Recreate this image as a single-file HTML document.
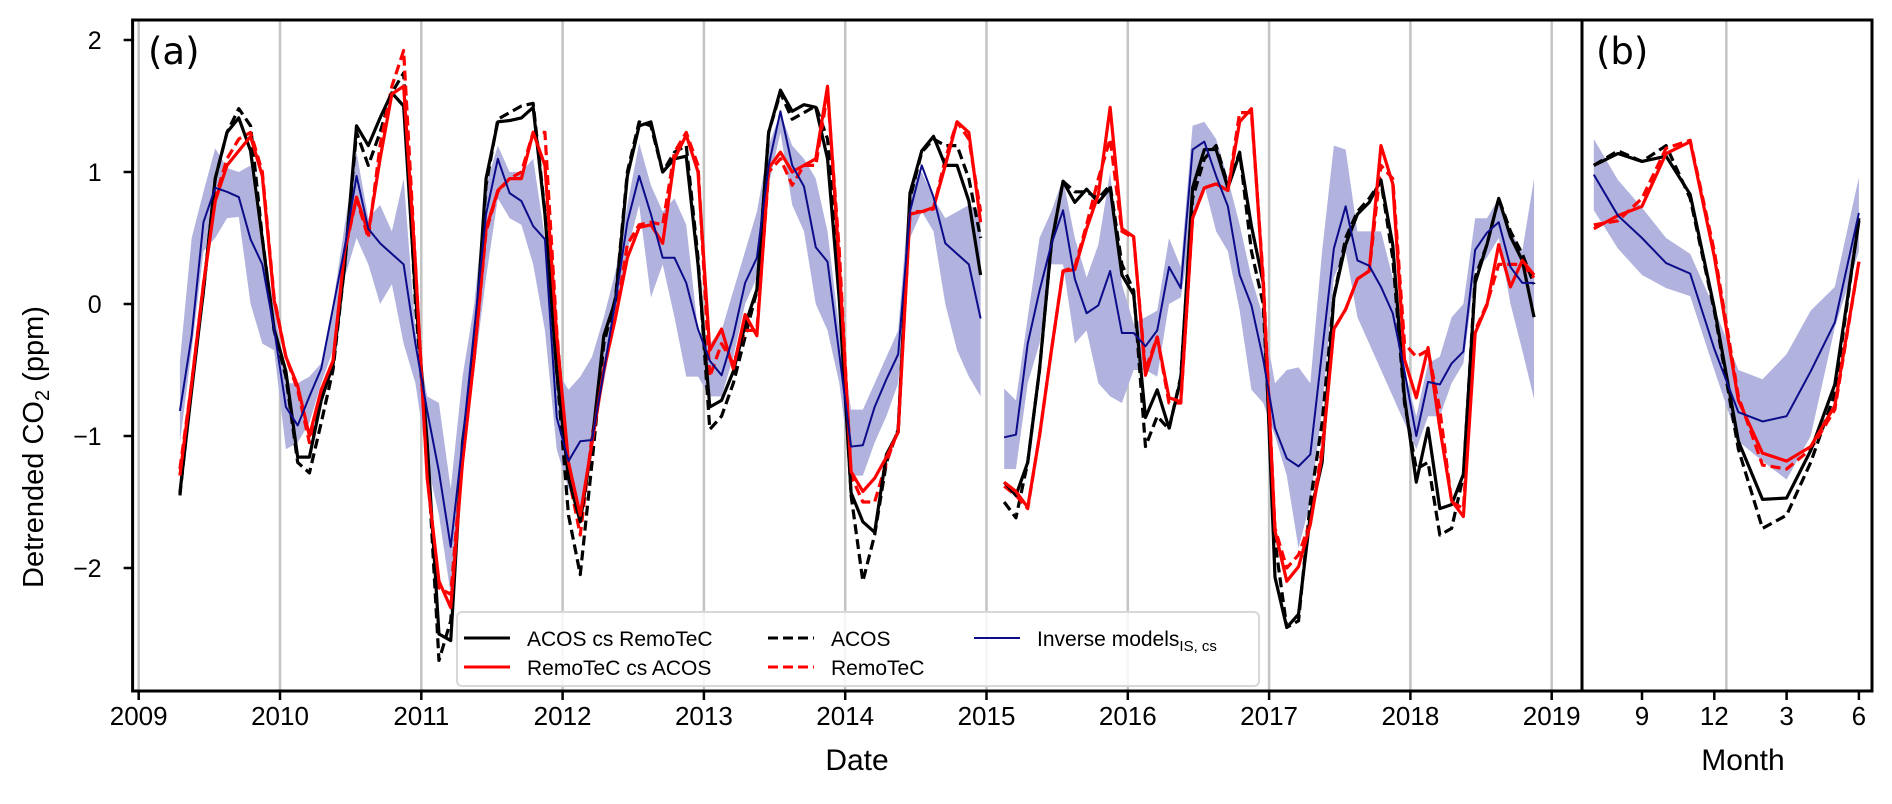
<!DOCTYPE html>
<html><head><meta charset="utf-8"><style>
body{margin:0;background:#fff}
svg{display:block}
text{font-family:"Liberation Sans",Arial,sans-serif;fill:#000}
</style></head><body>
<svg id="chart" width="1892" height="804" viewBox="0 0 1892 804" xmlns="http://www.w3.org/2000/svg">
<g id="grid"></g>
<g id="plot"></g>
<g id="axes"></g>
<text x="148" y="64" font-size="37" style="font-family:'DejaVu Sans',sans-serif">(a)</text>
<text x="1596" y="64" font-size="37" style="font-family:'DejaVu Sans',sans-serif">(b)</text>
<text x="857" y="770" font-size="30" text-anchor="middle">Date</text>
<text x="1743" y="770" font-size="30" text-anchor="middle">Month</text>
<text transform="translate(43,588) rotate(-90)" font-size="29" text-anchor="start">Detrended CO<tspan font-size="20" dy="6">2</tspan><tspan dy="-6"> (ppm)</tspan></text>
<g id="legend"></g>
</svg>
<script>
// Panel (a): monthly values, index 0 = Apr 2009 ... Nov 2018 (null = gap)
const acosCs = [
-1.43,-0.65,0.1,0.95,1.3,1.41,1.16,0.49,-0.19,
-0.51,-1.16,-1.16,-0.73,-0.46,0.3,1.35,1.2,1.41,1.6,1.5,0.08,
-1.05,-2.5,-2.55,-1.05,-0.38,0.95,1.38,1.39,1.41,1.49,0.68,-0.51,
-1.32,-1.65,-1.05,-0.24,0.03,0.97,1.35,1.38,1.0,1.1,1.12,0.3,
-0.78,-0.73,-0.51,-0.16,0.11,1.3,1.62,1.46,1.51,1.49,1.1,0.03,
-1.43,-1.65,-1.73,-1.14,-0.97,0.84,1.16,1.27,1.05,1.05,0.78,0.22,
null,-1.35,-1.45,-1.2,-0.5,0.45,0.93,0.77,0.87,0.77,0.88,0.22,
0.07,-0.86,-0.65,-0.94,-0.57,0.88,1.17,1.17,0.88,1.14,0.59,0.16,
-2.07,-2.45,-2.35,-1.6,-1.2,0.05,0.45,0.68,0.77,0.94,0.45,-0.71,
-1.35,-0.94,-1.55,-1.52,-1.29,0.16,0.45,0.8,0.51,0.33,-0.1];
const acos = [
-1.45,-0.6,0.1,0.95,1.3,1.48,1.35,0.5,-0.2,
-0.55,-1.2,-1.28,-0.9,-0.5,0.3,1.3,1.05,1.3,1.6,1.75,0.0,
-1.1,-2.7,-2.4,-1.1,-0.4,0.9,1.4,1.45,1.5,1.52,0.7,-0.5,
-1.6,-2.05,-1.2,-0.3,0.05,1.0,1.38,1.35,1.0,1.15,1.2,0.35,
-0.95,-0.85,-0.6,-0.25,0.1,1.3,1.6,1.4,1.45,1.5,1.25,0.2,
-1.45,-2.1,-1.75,-1.2,-0.95,0.8,1.15,1.25,1.2,1.2,0.95,0.5,
null,-1.5,-1.62,-1.2,-0.5,0.45,0.93,0.85,0.85,0.8,0.9,0.3,
0.1,-1.08,-0.85,-0.95,-0.55,0.8,1.1,1.2,0.9,1.15,0.4,0.0,
-1.8,-2.45,-2.4,-1.5,-0.9,0.05,0.5,0.7,0.8,0.93,0.35,-0.75,
-1.25,-1.2,-1.75,-1.7,-1.3,0.2,0.45,0.8,0.55,0.38,0.15];
const remoCs = [
-1.3,-0.6,0.15,0.78,1.05,1.16,1.27,0.97,0.03,
-0.4,-0.62,-1.0,-0.65,-0.43,0.41,0.81,0.54,1.1,1.59,1.65,0.3,
-1.32,-2.1,-2.3,-1.2,-0.4,0.57,0.86,0.95,0.95,1.3,1.05,-0.24,
-1.2,-1.6,-1.05,-0.5,-0.1,0.35,0.58,0.6,0.46,1.1,1.28,1.0,
-0.35,-0.19,-0.49,-0.08,-0.24,1.03,1.15,1.0,1.05,1.1,1.65,0.3,
-1.27,-1.42,-1.32,-1.16,-0.97,0.68,0.7,0.73,1.05,1.38,1.3,0.62,
null,-1.35,-1.42,-1.54,-1.0,-0.36,0.25,0.26,0.57,0.83,1.49,0.57,
0.51,-0.54,-0.25,-0.71,-0.74,0.65,0.88,0.91,0.86,1.38,1.48,0.16,
-1.72,-2.1,-1.99,-1.67,-1.14,-0.19,-0.04,0.19,0.25,1.2,0.91,-0.42,
-0.71,-0.33,-0.94,-1.49,-1.61,-0.22,-0.01,0.45,0.13,0.33,0.22];
const remo = [
-1.25,-0.6,0.15,0.8,1.1,1.25,1.3,1.0,0.05,
-0.4,-0.65,-1.05,-0.7,-0.45,0.4,0.8,0.5,1.2,1.65,1.92,0.3,
-1.3,-2.15,-2.2,-1.15,-0.4,0.55,0.85,0.95,1.0,1.3,1.3,-0.2,
-1.3,-1.75,-1.0,-0.5,-0.1,0.45,0.6,0.62,0.6,1.15,1.3,1.05,
-0.55,-0.3,-0.45,-0.2,-0.2,1.0,1.1,0.9,1.05,1.05,1.6,0.4,
-1.3,-1.5,-1.5,-1.2,-0.95,0.7,0.7,0.72,1.1,1.38,1.25,0.7,
null,-1.38,-1.45,-1.55,-1.0,-0.36,0.25,0.28,0.6,0.95,1.25,0.55,
0.5,-0.5,-0.25,-0.75,-0.75,0.65,0.88,0.91,0.86,1.45,1.45,0.2,
-1.7,-2.0,-1.9,-1.65,-1.1,-0.19,-0.04,0.19,0.25,1.05,0.95,-0.3,
-0.4,-0.35,-0.8,-1.5,-1.55,-0.2,0.0,0.3,0.3,0.3,0.2];
const inverse = [
-0.81,-0.24,0.62,0.88,0.85,0.81,0.49,0.3,-0.19,
-0.78,-0.92,-0.7,-0.49,-0.03,0.43,0.97,0.57,0.46,0.38,0.3,-0.3,
-0.81,-1.27,-1.84,-1.05,-0.19,0.68,1.1,0.84,0.78,0.59,0.49,-0.86,
-1.19,-1.04,-1.03,-0.51,0.03,0.62,0.97,0.68,0.35,0.35,0.16,-0.19,
-0.43,-0.54,-0.24,0.16,0.35,1.05,1.46,1.05,0.89,0.43,0.32,-0.38,
-1.08,-1.07,-0.78,-0.57,-0.38,0.7,1.05,0.81,0.46,0.38,0.3,-0.11,
null,-1.01,-0.99,-0.3,0.1,0.45,0.71,0.19,-0.07,-0.01,0.25,-0.22,
-0.22,-0.32,-0.2,0.28,0.12,1.17,1.23,0.97,0.74,0.22,-0.01,-0.42,
-0.94,-1.17,-1.23,-1.14,-0.36,0.42,0.74,0.33,0.29,0.13,-0.07,-0.51,
-1.0,-0.59,-0.61,-0.45,-0.36,0.41,0.54,0.62,0.28,0.16,0.16];
const bandHi = [
-0.43,0.5,0.85,1.18,1.03,1.0,1.05,0.4,0.0,
-0.6,-0.6,-0.55,-0.45,0.0,0.6,1.15,0.65,0.75,0.55,0.95,-0.2,
-0.7,-0.75,-1.4,-0.55,0.0,0.9,1.2,1.0,1.0,1.1,0.5,-0.5,
-0.65,-0.55,-0.4,-0.1,0.25,0.75,1.22,0.9,0.7,0.8,0.6,-0.2,
-0.3,-0.2,0.1,0.4,0.7,1.2,1.45,1.2,1.1,0.95,0.55,-0.2,
-0.8,-0.8,-0.6,-0.4,-0.2,0.9,1.0,0.8,0.65,0.7,0.75,0.7,
null,-0.64,-0.73,-0.1,0.5,0.7,0.95,0.5,0.2,0.45,1.0,0.15,
-0.15,-0.1,-0.05,0.5,0.28,1.35,1.38,1.25,0.95,0.6,0.2,-0.1,
-0.6,-0.5,-0.48,-0.6,0.4,1.2,1.17,0.55,0.55,0.55,0.2,-0.5,
-0.85,-0.45,-0.4,-0.1,0.0,0.65,0.65,0.8,0.55,0.4,0.95];
const bandLo = [
-1.05,-0.35,0.4,0.5,0.65,0.66,0.0,-0.3,-0.35,
-1.1,-1.05,-0.9,-0.6,-0.35,0.2,0.5,0.3,0.0,0.15,-0.3,-0.6,
-1.2,-1.6,-2.2,-1.3,-0.5,0.2,0.8,0.65,0.6,0.3,-0.2,-1.1,
-1.4,-1.55,-1.0,-0.6,-0.1,0.4,0.75,0.05,0.3,-0.1,-0.55,-0.55,
-0.7,-0.7,-0.4,0.0,0.2,0.9,1.3,0.75,0.55,0.0,-0.2,-0.6,
-1.3,-1.3,-1.05,-0.85,-0.6,0.5,0.7,0.55,0.0,-0.35,-0.55,-0.7,
null,-1.25,-1.25,-0.6,-0.3,0.3,0.3,-0.3,-0.2,-0.6,-0.7,-0.75,
-0.5,-0.5,-0.55,0.0,0.05,0.6,0.9,0.55,0.4,-0.05,-0.65,-0.75,
-1.0,-1.3,-1.85,-1.5,-0.8,0.2,0.4,-0.1,-0.3,-0.5,-0.7,-0.9,
-1.1,-0.85,-0.85,-0.6,-0.45,0.25,0.35,0.5,0.0,-0.35,-0.72];
const yearTicks = [2009,2010,2011,2012,2013,2014,2015,2016,2017,2018,2019];
const yTicks = [-2,-1,0,1,2];
// Panel (b): climatology, months 7..18 (Jul..Jun)
const bMonths = [7,8,9,10,11,12,13,14,15,16,17,18];
const bAcosCs = [1.05,1.14,1.08,1.12,0.83,-0.03,-1.04,-1.48,-1.47,-1.11,-0.61,0.63];
const bAcos = [1.05,1.16,1.08,1.2,0.8,-0.05,-1.1,-1.7,-1.6,-1.2,-0.68,0.65];
const bRemoCs = [0.57,0.67,0.74,1.14,1.23,0.36,-0.73,-1.13,-1.19,-1.08,-0.77,0.32];
const bRemo = [0.6,0.63,0.8,1.18,1.24,0.4,-0.7,-1.22,-1.25,-1.1,-0.8,0.32];
const bInverse = [0.98,0.67,0.5,0.31,0.23,-0.34,-0.82,-0.89,-0.85,-0.51,-0.14,0.69];
const bBandHi = [1.25,0.94,0.73,0.5,0.38,-0.03,-0.5,-0.57,-0.38,-0.05,0.13,0.96];
const bBandLo = [0.71,0.42,0.22,0.12,0.06,-0.5,-1.04,-1.19,-1.33,-1.0,-0.18,0.4];
const bTickMonths = [9,12,15,18];
const bTickLabels = ['9','12','3','6'];

const NS='http://www.w3.org/2000/svg';
const X0=138.7, PXY=141.3, START=3;
function xA(i){return X0+(i+START+0.5)*PXY/12;}
function xYear(y){return X0+(y-2009)*PXY;}
function yV(v){return 304-v*132;}
function xB(m){return 1642+(m-9)*24.1;}
function mk(tag,attrs,parent){const e=document.createElementNS(NS,tag);for(const k in attrs)e.setAttribute(k,attrs[k]);parent.appendChild(e);return e;}
const grid=document.getElementById('grid'), plot=document.getElementById('plot'), axes=document.getElementById('axes');
const TOP=20,BOT=691,LA=132.6,RA=1582,RB=1872;

yearTicks.forEach(y=>{
  const l=mk('line',{x1:xYear(y),x2:xYear(y),y1:TOP,y2:BOT,stroke:'#c4c4c4','stroke-width':2.5},grid);
  
  
});
const gb=mk('line',{x1:xB(12.5),x2:xB(12.5),y1:TOP,y2:BOT,stroke:'#c4c4c4','stroke-width':2.5},grid);



function segments(xs,ys){const segs=[];let cur=[];ys.forEach((v,i)=>{if(v===null){if(cur.length)segs.push(cur);cur=[];}else cur.push([xs(i),yV(v)]);});if(cur.length)segs.push(cur);return segs;}
function drawBand(xf,hi,lo,name){
  const segH=[],segL=[];let h=[],l=[];
  hi.forEach((v,i)=>{if(v===null){if(h.length){segH.push(h);segL.push(l);}h=[];l=[];}else{h.push([xf(i),yV(v)]);l.push([xf(i),yV(lo[i])]);}});
  if(h.length){segH.push(h);segL.push(l);}
  segH.forEach((s,j)=>{const pts=s.concat(segL[j].slice().reverse()).map(p=>p.join(',')).join(' ');
    const p=mk('polygon',{points:pts,fill:'#b1b3de',stroke:'none'},plot);
    
    });
}
function drawLine(xf,vals,color,w,dash,name){
  segments(xf,vals).forEach(s=>{
    const a={points:s.map(p=>p.join(',')).join(' '),fill:'none',stroke:color,'stroke-width':w,'stroke-linejoin':'round'};
    if(dash)a['stroke-dasharray']=dash;
    const p=mk('polyline',a,plot);
    
    
  });
}
drawBand(xA,bandHi,bandLo,'inverse-models-range');
drawLine(xA,acos,'#000',3.2,'10,5','acos-line');
drawLine(xA,remo,'#ff0000',3.2,'10,5','remotec-line');
drawLine(xA,acosCs,'#000',3.2,null,'acos-cs-remotec-line');
drawLine(xA,remoCs,'#ff0000',3.2,null,'remotec-cs-acos-line');
drawLine(xA,inverse,'#0c0c8a',2,null,'inverse-models-line');
const xBi=i=>xB(bMonths[i]);
drawBand(xBi,bBandHi,bBandLo,'inverse-models-range-b');
drawLine(xBi,bAcos,'#000',3.2,'10,5','acos-line-b');
drawLine(xBi,bRemo,'#ff0000',3.2,'10,5','remotec-line-b');
drawLine(xBi,bAcosCs,'#000',3.2,null,'acos-cs-remotec-line-b');
drawLine(xBi,bRemoCs,'#ff0000',3.2,null,'remotec-cs-acos-line-b');
drawLine(xBi,bInverse,'#0c0c8a',2,null,'inverse-models-line-b');

const fa=mk('rect',{x:LA,y:TOP,width:RA-LA,height:BOT-TOP,fill:'none',stroke:'#000','stroke-width':3},axes);


const fb=mk('rect',{x:RA,y:TOP,width:RB-RA,height:BOT-TOP,fill:'none',stroke:'#000','stroke-width':3},axes);


yTicks.forEach(v=>{
  mk('line',{x1:LA-9,x2:LA,y1:yV(v),y2:yV(v),stroke:'#000','stroke-width':2.5},axes);
  const t=mk('text',{x:LA-31,y:yV(v)+9,'font-size':25,'text-anchor':'end'},axes);
  t.textContent=(v<0?'\u2212':'')+Math.abs(v);
  
  
});
yearTicks.forEach(y=>{
  mk('line',{x1:xYear(y),x2:xYear(y),y1:BOT,y2:BOT+9,stroke:'#000','stroke-width':2.5},axes);
  const t=mk('text',{x:xYear(y),y:725,'font-size':26,'text-anchor':'middle'},axes);
  t.textContent=y;
  
  
});
bTickMonths.forEach((m,i)=>{
  mk('line',{x1:xB(m),x2:xB(m),y1:BOT,y2:BOT+9,stroke:'#000','stroke-width':2.5},axes);
  const t=mk('text',{x:xB(m),y:725,'font-size':26,'text-anchor':'middle'},axes);
  t.textContent=bTickLabels[i];
  
  
});

const lg=document.getElementById('legend');
mk('rect',{x:457,y:612,width:802,height:74,rx:5,fill:'rgba(255,255,255,0.85)',stroke:'#d8d8d8','stroke-width':2},lg);
const entries=[
 {x:464,y:638,c:'#000',d:null,w:3,t:'ACOS cs RemoTeC',n:'legend-acos-cs-remotec'},
 {x:464,y:667,c:'#ff0000',d:null,w:3,t:'RemoTeC cs ACOS',n:'legend-remotec-cs-acos'},
 {x:768,y:638,c:'#000',d:'10,5',w:3,t:'ACOS',n:'legend-acos'},
 {x:768,y:667,c:'#ff0000',d:'10,5',w:3,t:'RemoTeC',n:'legend-remotec'},
 {x:974,y:638,c:'#0c0c8a',d:null,w:2,t:'Inverse models',n:'legend-inverse-models'}];
entries.forEach(e=>{
  const g=mk('g',{},lg);
  
  
  const a={x1:e.x,x2:e.x+46,y1:e.y,y2:e.y,stroke:e.c,'stroke-width':e.w};
  if(e.d)a['stroke-dasharray']=e.d;
  mk('line',a,g);
  const t=mk('text',{x:e.x+63,y:e.y+8,'font-size':21},g);
  t.textContent=e.t;
  if(e.n==='legend-inverse-models'){const s=mk('tspan',{'font-size':15,dy:5},t);s.textContent='IS, cs';}
});
</script>
</body></html>
